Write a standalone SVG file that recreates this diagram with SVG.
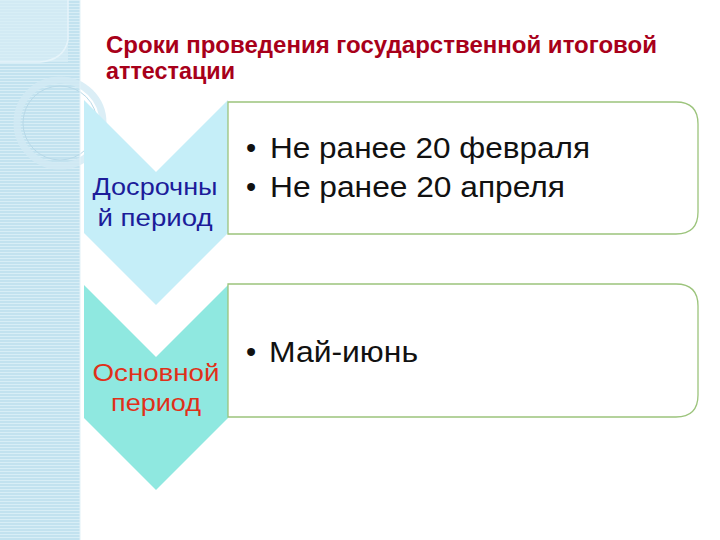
<svg xmlns="http://www.w3.org/2000/svg" width="720" height="540" viewBox="0 0 720 540">
<style>
.title{font-family:"Liberation Sans",Arial,sans-serif;font-weight:bold;font-size:23px;fill:#a8001a}
.lbl{font-family:"Liberation Sans",Arial,sans-serif;font-size:24px;text-anchor:middle}
.item{font-family:"Liberation Sans",Arial,sans-serif;font-size:29px;fill:#111}
.box{fill:#fff;stroke:#9cc47c;stroke-width:1.3}
</style>
<defs>
<pattern id="stripes" width="6" height="3" patternUnits="userSpaceOnUse">
<rect width="6" height="3" fill="#c2e2ef"/>
<rect width="6" height="1" fill="#d8eef6"/>
</pattern>
</defs>
<rect width="720" height="540" fill="#fff"/>
<g id="background">
<rect x="0" y="0" width="80" height="540" fill="url(#stripes)"/>
<rect x="0" y="0" width="68" height="62" fill="#d9eef6" opacity="0.7"/>
<path d="M68 0 V40 Q64 60 40 62 H0" fill="none" stroke="#e6f4fa" stroke-width="1.5"/>
<circle cx="60" cy="123" r="43" fill="none" stroke="#d2eaf4" stroke-width="7" opacity="0.8"/>
<circle cx="60" cy="123" r="37" fill="none" stroke="#b8d9e8" stroke-width="1"/>
<line x1="80" y1="0" x2="80" y2="540" stroke="#e2f1f7" stroke-width="1"/>
</g>
<g id="title">
<text class="title" x="106" y="53" textLength="551" lengthAdjust="spacingAndGlyphs">Сроки проведения государственной итоговой</text>
<text class="title" x="106" y="79" textLength="129" lengthAdjust="spacingAndGlyphs">аттестации</text>
</g>
<g id="early">
<polygon points="84,100 156,172 228,100 228,233 156,305 84,233" fill="#c5eef8"/>
<text class="lbl" x="155" y="195" fill="#1c1c9a" textLength="125" lengthAdjust="spacingAndGlyphs">Досрочны</text>
<text class="lbl" x="155" y="226" fill="#1c1c9a" textLength="115" lengthAdjust="spacingAndGlyphs">й период</text>
</g>
<g id="early-box">
<path class="box" d="M228 102 H676 Q698 102 698 124 V212 Q698 234 676 234 H228 Z"/>
<text class="item" x="246" y="158">•</text>
<text class="item" x="270" y="158" textLength="320" lengthAdjust="spacingAndGlyphs">Не ранее 20 февраля</text>
<text class="item" x="246" y="197">•</text>
<text class="item" x="270" y="197" textLength="295" lengthAdjust="spacingAndGlyphs">Не ранее 20 апреля</text>
</g>
<g id="main">
<polygon points="84,285 156,357 228,285 228,418 156,490 84,418" fill="#8fe8e0"/>
<text class="lbl" x="156" y="381" fill="#e0301a" textLength="127" lengthAdjust="spacingAndGlyphs">Основной</text>
<text class="lbl" x="156" y="411" fill="#e0301a" textLength="90" lengthAdjust="spacingAndGlyphs">период</text>
</g>
<g id="main-box">
<path class="box" d="M228 284 H676 Q698 284 698 306 V395 Q698 417 676 417 H228 Z"/>
<text class="item" x="246" y="362">•</text>
<text class="item" x="269" y="362" textLength="149" lengthAdjust="spacingAndGlyphs">Май-июнь</text>
</g>
<g id="connectors"/>
</svg>
